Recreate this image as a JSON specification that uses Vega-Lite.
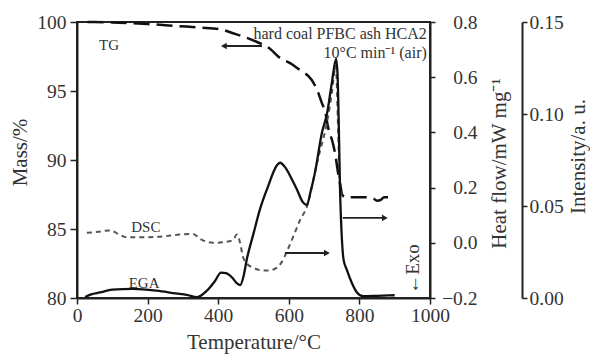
{
  "$schema": "https://vega.github.io/schema/vega-lite/v6.json",
  "width": 353,
  "height": 276,
  "autosize": "none",
  "padding": {"left": 77, "top": 22, "right": 160, "bottom": 58},
  "config": {
    "font": "Liberation Serif",
    "view": {"stroke": "#222", "strokeWidth": 2},
    "axis": {
      "domainColor": "#222", "domainWidth": 2, "tickColor": "#222", "tickWidth": 1.5,
      "labelColor": "#333", "titleColor": "#333", "labelFontSize": 19.5, "titleFontSize": 21,
      "titleFontWeight": "normal", "grid": false, "labelFont": "Liberation Serif", "titleFont": "Liberation Serif",
      "labelFlush": false
    },
    "text": {"font": "Liberation Serif", "color": "#333"}
  },
  "datasets": {
    "tg": [
      {"T": 30, "m": 100.0}, {"T": 100, "m": 99.97}, {"T": 200, "m": 99.85}, {"T": 290, "m": 99.7},
      {"T": 350, "m": 99.6}, {"T": 410, "m": 99.45}, {"T": 440, "m": 99.2}, {"T": 476, "m": 98.9},
      {"T": 510, "m": 98.55}, {"T": 545, "m": 98.1}, {"T": 575, "m": 97.4}, {"T": 605, "m": 97.0},
      {"T": 632, "m": 96.5}, {"T": 665, "m": 95.8}, {"T": 683, "m": 94.9}, {"T": 694, "m": 94.1},
      {"T": 703, "m": 93.5}, {"T": 711, "m": 92.4}, {"T": 725, "m": 91.2}, {"T": 731, "m": 90.5},
      {"T": 740, "m": 89.0}, {"T": 746, "m": 88.2}, {"T": 751, "m": 87.5}, {"T": 760, "m": 87.3},
      {"T": 820, "m": 87.3}, {"T": 840, "m": 87.2}, {"T": 850, "m": 87.05}, {"T": 860, "m": 87.1},
      {"T": 870, "m": 87.3}, {"T": 900, "m": 87.3}
    ],
    "dsc": [
      {"T": 28, "h": 0.036}, {"T": 60, "h": 0.04}, {"T": 93, "h": 0.045}, {"T": 120, "h": 0.03},
      {"T": 141, "h": 0.02}, {"T": 180, "h": 0.02}, {"T": 235, "h": 0.022}, {"T": 290, "h": 0.03},
      {"T": 329, "h": 0.032}, {"T": 348, "h": 0.015}, {"T": 385, "h": 0.0}, {"T": 420, "h": 0.003},
      {"T": 442, "h": 0.01}, {"T": 453, "h": 0.03}, {"T": 462, "h": 0.0}, {"T": 470, "h": -0.05},
      {"T": 481, "h": -0.075}, {"T": 499, "h": -0.09}, {"T": 527, "h": -0.1}, {"T": 545, "h": -0.1},
      {"T": 566, "h": -0.09}, {"T": 580, "h": -0.07}, {"T": 595, "h": -0.03}, {"T": 615, "h": 0.03},
      {"T": 632, "h": 0.083}, {"T": 651, "h": 0.13}, {"T": 680, "h": 0.29}, {"T": 711, "h": 0.456},
      {"T": 722, "h": 0.543}, {"T": 733, "h": 0.64}, {"T": 740, "h": 0.4}, {"T": 745, "h": 0.2},
      {"T": 750, "h": 0.17}
    ],
    "ega": [
      {"T": 23, "i": 0.0005}, {"T": 40, "i": 0.002}, {"T": 65, "i": 0.003}, {"T": 100, "i": 0.0045},
      {"T": 159, "i": 0.005}, {"T": 226, "i": 0.004}, {"T": 280, "i": 0.0025}, {"T": 311, "i": 0.0017},
      {"T": 340, "i": 0.0005}, {"T": 368, "i": 0.004}, {"T": 390, "i": 0.009}, {"T": 408, "i": 0.0138},
      {"T": 422, "i": 0.0135}, {"T": 440, "i": 0.011}, {"T": 453, "i": 0.008}, {"T": 462, "i": 0.007},
      {"T": 472, "i": 0.012}, {"T": 481, "i": 0.021}, {"T": 500, "i": 0.035}, {"T": 518, "i": 0.048},
      {"T": 540, "i": 0.06}, {"T": 566, "i": 0.072}, {"T": 575, "i": 0.0735}, {"T": 590, "i": 0.071},
      {"T": 610, "i": 0.064}, {"T": 623, "i": 0.059}, {"T": 640, "i": 0.052}, {"T": 651, "i": 0.0505},
      {"T": 662, "i": 0.058}, {"T": 674, "i": 0.068}, {"T": 694, "i": 0.09}, {"T": 708, "i": 0.1},
      {"T": 722, "i": 0.117}, {"T": 734, "i": 0.13}, {"T": 738, "i": 0.122}, {"T": 742, "i": 0.09},
      {"T": 745, "i": 0.06}, {"T": 748, "i": 0.042}, {"T": 751, "i": 0.03}, {"T": 755, "i": 0.021},
      {"T": 765, "i": 0.015}, {"T": 779, "i": 0.008}, {"T": 793, "i": 0.003}, {"T": 810, "i": 0.001},
      {"T": 850, "i": 0.0012}, {"T": 900, "i": 0.0015}
    ],
    "labels": [
      {"T": 91, "m": 98.33, "label": "TG"},
      {"T": 195, "m": 85.14, "label": "DSC"},
      {"T": 190, "m": 81.09, "label": "EGA"}
    ],
    "exo": [{"T": 952, "m": 82.1, "label": "←Exo"}],
    "info": [
      {"T": 991, "m": 98.77, "label": "hard coal PFBC ash HCA2"},
      {"T": 991, "m": 97.39, "label": "10°C min⁻¹ (air)"}
    ],
    "tgarrow": [{"T": 418, "T2": 524, "m": 98.26}],
    "tghead": [{"T": 416, "m": 98.26}],
    "dscarrow": [{"T": 589, "T2": 704, "h": -0.037}],
    "dschead": [{"T": 708, "h": -0.037}],
    "egaarrow": [{"T": 753, "T2": 868, "i": 0.0435}],
    "egahead": [{"T": 872, "i": 0.0435}]
  },
  "layer": [
    {
      "layer": [
        {
          "data": {"name": "tg"},
          "mark": {"type": "line", "interpolate": "monotone", "strokeDash": [16, 7], "strokeWidth": 2.5, "color": "#111"},
          "encoding": {
            "x": {"field": "T", "type": "quantitative", "scale": {"domain": [0, 1000], "nice": false},
              "axis": {"title": "Temperature/°C", "values": [0, 200, 400, 600, 800, 1000], "format": "d", "tickSize": 6, "labelPadding": 2, "titleY": 50, "titleBaseline": "alphabetic"}},
            "y": {"field": "m", "type": "quantitative", "scale": {"domain": [80, 100], "nice": false, "zero": false},
              "axis": {"title": "Mass/%", "orient": "left", "values": [80, 85, 90, 95, 100], "tickSize": 7, "labelPadding": 4,
                "titleAngle": 270, "titleX": -57, "titleY": 130, "titleAlign": "center", "titleBaseline": "middle"}}
          }
        },
        {
          "data": {"name": "tgarrow"},
          "mark": {"type": "rule", "strokeWidth": 1.8, "color": "#222"},
          "encoding": {
            "x": {"field": "T", "type": "quantitative"},
            "x2": {"field": "T2"},
            "y": {"field": "m", "type": "quantitative"}
          }
        },
        {
          "data": {"name": "tghead"},
          "mark": {"type": "point", "shape": "triangle-left", "filled": true, "size": 45, "color": "#222", "opacity": 1},
          "encoding": {
            "x": {"field": "T", "type": "quantitative"},
            "y": {"field": "m", "type": "quantitative"}
          }
        },
        {
          "data": {"name": "labels"},
          "mark": {"type": "text", "color": "#333", "fontSize": 15, "align": "center", "baseline": "middle"},
          "encoding": {
            "x": {"field": "T", "type": "quantitative"},
            "y": {"field": "m", "type": "quantitative"},
            "text": {"field": "label"}
          }
        },
        {
          "data": {"name": "exo"},
          "mark": {"type": "text", "color": "#333", "fontSize": 19, "align": "center", "baseline": "middle", "angle": 270},
          "encoding": {
            "x": {"field": "T", "type": "quantitative"},
            "y": {"field": "m", "type": "quantitative"},
            "text": {"field": "label"}
          }
        },
        {
          "data": {"name": "info"},
          "mark": {"type": "text", "color": "#333", "fontSize": 16, "align": "right", "baseline": "alphabetic"},
          "encoding": {
            "x": {"field": "T", "type": "quantitative"},
            "y": {"field": "m", "type": "quantitative"},
            "text": {"field": "label"}
          }
        }
      ]
    },
    {
      "layer": [
        {
          "data": {"name": "dsc"},
          "mark": {"type": "line", "interpolate": "monotone", "strokeDash": [5, 4], "strokeWidth": 2, "color": "#555"},
          "encoding": {
            "x": {"field": "T", "type": "quantitative"},
            "y": {"field": "h", "type": "quantitative", "scale": {"domain": [-0.2, 0.8], "nice": false, "zero": false},
              "axis": {"title": "Heat flow/mW mg⁻¹", "orient": "right", "values": [-0.2, 0, 0.2, 0.4, 0.6, 0.8], "format": ".1f",
                "tickSize": 5, "labelAlign": "right", "labelPadding": 42,
                "titleAngle": 270, "titleX": 69, "titleY": 141, "titleAlign": "center", "titleBaseline": "middle"}}
          }
        },
        {
          "data": {"name": "dscarrow"},
          "mark": {"type": "rule", "strokeWidth": 1.8, "color": "#222"},
          "encoding": {
            "x": {"field": "T", "type": "quantitative"},
            "x2": {"field": "T2"},
            "y": {"field": "h", "type": "quantitative"}
          }
        },
        {
          "data": {"name": "dschead"},
          "mark": {"type": "point", "shape": "triangle-right", "filled": true, "size": 45, "color": "#222", "opacity": 1},
          "encoding": {
            "x": {"field": "T", "type": "quantitative"},
            "y": {"field": "h", "type": "quantitative"}
          }
        }
      ]
    },
    {
      "layer": [
        {
          "data": {"name": "ega"},
          "mark": {"type": "line", "interpolate": "monotone", "strokeWidth": 2.3, "color": "#111"},
          "encoding": {
            "x": {"field": "T", "type": "quantitative"},
            "y": {"field": "i", "type": "quantitative", "scale": {"domain": [0, 0.15], "nice": false},
              "axis": {"title": "Intensity/a. u.", "orient": "right", "offset": 92, "values": [0, 0.05, 0.1, 0.15], "format": ".2f",
                "tickSize": 5, "labelPadding": 2,
                "titleAngle": 270, "titleX": 56, "titleY": 134, "titleAlign": "center", "titleBaseline": "middle"}}
          }
        },
        {
          "data": {"name": "egaarrow"},
          "mark": {"type": "rule", "strokeWidth": 1.8, "color": "#222"},
          "encoding": {
            "x": {"field": "T", "type": "quantitative"},
            "x2": {"field": "T2"},
            "y": {"field": "i", "type": "quantitative"}
          }
        },
        {
          "data": {"name": "egahead"},
          "mark": {"type": "point", "shape": "triangle-right", "filled": true, "size": 45, "color": "#222", "opacity": 1},
          "encoding": {
            "x": {"field": "T", "type": "quantitative"},
            "y": {"field": "i", "type": "quantitative"}
          }
        }
      ]
    }
  ],
  "resolve": {"scale": {"y": "independent"}, "axis": {"y": "independent"}}
}
